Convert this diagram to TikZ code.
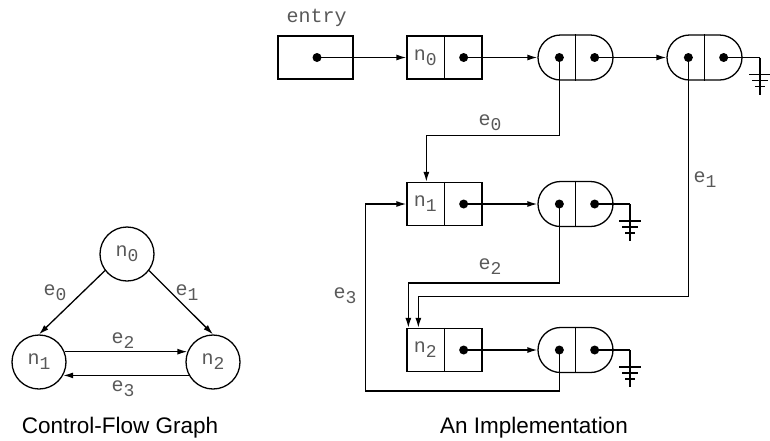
\documentclass[tikz,border=0pt]{standalone}
\usepackage{fontspec}
\setmainfont{Liberation Sans}
\newfontfamily\codefont{Liberation Mono}
\usetikzlibrary{arrows.meta,shapes.misc}

% subscripted code label, e.g. n_0
\newcommand{\lbl}[2]{{\codefont\fontsize{20}{20}\selectfont #1\raisebox{-5pt}{\fontsize{18}{18}\selectfont #2}}}

\tikzset{
  cell/.style={draw, rectangle, minimum width=75pt, minimum height=43pt, inner sep=0pt},
  pill/.style={draw, rounded rectangle, minimum width=75pt, minimum height=45pt, inner sep=0pt},
  ptr/.style={circle, fill, inner sep=0pt, minimum size=9pt},
  vertex/.style={circle, draw, minimum size=54pt, inner sep=0pt, text=black!65},
  txt/.style={text=black!65, inner sep=0pt},
  arr/.style={-{Latex[length=10pt,width=6pt]}},
  earth/.pic={
    \draw (0,0) -- (0,37);
    \draw (-11,17) -- (11,17);
    \draw (-8,23) -- (8,23);
    \draw (-5,29) -- (5,29);
  }
}

\begin{document}
\begin{tikzpicture}[x=1pt, y=-1pt, line width=1.3pt]
    \useasboundingbox (0,0) rectangle (770,440);

    % Control-flow graph
    \node[vertex] (c0) at (127,254) {\lbl{n}{0}};
    \node[vertex] (c1) at (39,362) {\lbl{n}{1}};
    \node[vertex] (c2) at (213,362) {\lbl{n}{2}};

    \draw[arr] (c0.217) -- (c1.north);
    \draw[arr] (c0.323) -- (c2.north);
    \draw[arr] (c1.22) -- (c2.158);
    \draw[arr] (c2.209) -- (c1.331);

    \node[txt] (ce0) at (55,293) {\lbl{e}{0}};
    \node[txt] (ce1) at (187,293) {\lbl{e}{1}};
    \node[txt] (ce2) at (123,341) {\lbl{e}{2}};
    \node[txt] (ce3) at (123,389) {\lbl{e}{3}};

    \node (cfgcap) at (120,428) {\fontsize{22.5}{22.5}\selectfont Control-Flow Graph};

    % Implementation: first row
    \node[txt, anchor=west] (entrylbl) at (286,18) {\codefont\fontsize{20}{20}\selectfont entry};
    \node[cell] (entry) at (315.5,57.5) {};
    \node[ptr] (entryptr) at (317,57.5) {};

    \node[cell] (n0box) at (444.5,57.5) {};
    \draw (n0box.north) -- (n0box.south);
    \node[txt] (n0lbl) at ([xshift=19pt]n0box.west) {\lbl{n}{0}};
    \node[ptr] (n0ptr) at ([xshift=-19pt]n0box.east) {};

    \node[pill] (p0) at (575.5,57.5) {};
    \draw (p0.north) -- (p0.south);
    \node[ptr] (p0a) at ([xshift=22pt]p0.west) {};
    \node[ptr] (p0b) at ([xshift=-19pt]p0.east) {};

    \node[pill] (p1) at (704.5,57.5) {};
    \draw (p1.north) -- (p1.south);
    \node[ptr] (p1a) at ([xshift=22pt]p1.west) {};
    \node[ptr] (p1b) at ([xshift=-19pt]p1.east) {};

    % second row
    \node[cell] (n1box) at (444.5,204) {};
    \draw (n1box.north) -- (n1box.south);
    \node[txt] (n1lbl) at ([xshift=19pt]n1box.west) {\lbl{n}{1}};
    \node[ptr] (n1ptr) at ([xshift=-19pt]n1box.east) {};

    \node[pill] (q1) at (575.5,204) {};
    \draw (q1.north) -- (q1.south);
    \node[ptr] (q1a) at ([xshift=22pt]q1.west) {};
    \node[ptr] (q1b) at ([xshift=-19pt]q1.east) {};

    % third row
    \node[cell] (n2box) at (444.5,350) {};
    \draw (n2box.north) -- (n2box.south);
    \node[txt] (n2lbl) at ([xshift=19pt]n2box.west) {\lbl{n}{2}};
    \node[ptr] (n2ptr) at ([xshift=-19pt]n2box.east) {};

    \node[pill] (q2) at (575.5,350) {};
    \draw (q2.north) -- (q2.south);
    \node[ptr] (q2a) at ([xshift=22pt]q2.west) {};
    \node[ptr] (q2b) at ([xshift=-19pt]q2.east) {};

    % Pointers
    \draw[arr] (entryptr.center) -- (n0box.west);
    \draw[arr] (n0ptr.center) -- (p0.west);
    \draw[arr] (p0b.center) -- (p1.west);
    \draw[arr] (n1ptr.center) -- (q1.west);
    \draw[arr] (n2ptr.center) -- (q2.west);

    % Nil ends
    \coordinate (gnd0) at (760,57.5);
    \coordinate (gnd1) at (630,204);
    \coordinate (gnd2) at (630,350);
    \draw (p1b.center) -- (gnd0);
    \draw (q1b.center) -- (gnd1);
    \draw (q2b.center) -- (gnd2);
    \pic at (gnd0) {earth};
    \pic at (gnd1) {earth};
    \pic at (gnd2) {earth};

    % Edges
    \draw[arr] (p0a.center) -- ++(0,78) -| ([xshift=20pt]n1box.north west);
    \draw[arr] (p1a.center) -- ++(0,239) -| ([xshift=12pt]n2box.north west);
    \draw[arr] (q1a.center) -- ++(0,79) -| ([xshift=2pt]n2box.north west);
    \draw[arr] (q2a.center) -- ++(0,41) -| ([xshift=-41pt]n1box.west) -- (n1box.west);

    \node[txt] (le0) at (490,123) {\lbl{e}{0}};
    \node[txt] (le1) at (705,180) {\lbl{e}{1}};
    \node[txt] (le2) at (490,267) {\lbl{e}{2}};
    \node[txt] (le3) at (345,296) {\lbl{e}{3}};

    \node (implcap) at (534,428) {\fontsize{22.5}{22.5}\selectfont An Implementation};
\end{tikzpicture}
\end{document}
